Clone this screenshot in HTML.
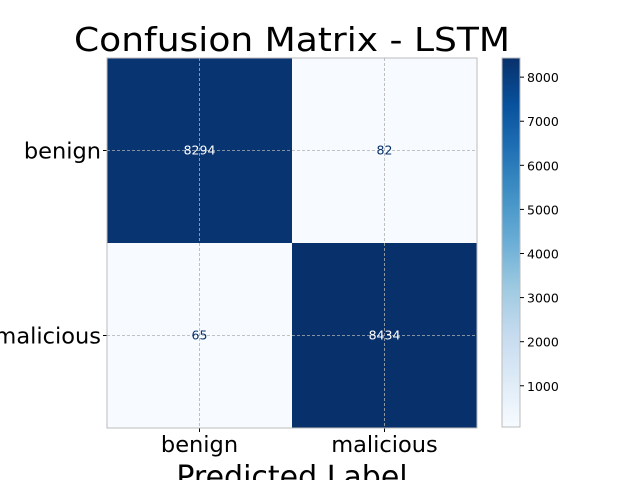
<!DOCTYPE html>
<html><head><meta charset="utf-8"><style>body{margin:0;background:#fff}svg{display:block;font-family:"DejaVu Sans","Liberation Sans",sans-serif}</style></head>
<body>
<svg id="c" width="640" height="480" xmlns="http://www.w3.org/2000/svg">
<defs><linearGradient id="blues" x1="0" y1="1" x2="0" y2="0">
<stop offset="0" stop-color="#f7fbff"/><stop offset="0.125" stop-color="#deebf7"/><stop offset="0.25" stop-color="#c6dbef"/><stop offset="0.375" stop-color="#9ecae1"/><stop offset="0.5" stop-color="#6baed6"/><stop offset="0.625" stop-color="#4292c6"/><stop offset="0.75" stop-color="#2171b5"/><stop offset="0.875" stop-color="#08519c"/><stop offset="1" stop-color="#08306b"/></linearGradient></defs>
<text x="292" y="51" font-size="33" text-anchor="middle" textLength="436" lengthAdjust="spacingAndGlyphs">Confusion Matrix - LSTM</text>
<g id="m"></g>
<text x="292" y="487" font-size="30" text-anchor="middle">Predicted Label</text>
<rect x="502" y="58" width="18" height="369" fill="url(#blues)" stroke="#bbb"/>
<g id="cb"></g>
</svg>
<script>
const labels = ["benign","malicious"];
const values = [[8294,82],[65,8434]];
const cbTicks = [1000,2000,3000,4000,5000,6000,7000,8000];
const NS="http://www.w3.org/2000/svg";
const X0=107,Y0=58,S=185,N=labels.length;
const vmin=Math.min(...values.flat()),vmax=Math.max(...values.flat());
const stops=["#f7fbff","#deebf7","#c6dbef","#9ecae1","#6baed6","#4292c6","#2171b5","#08519c","#08306b"];
function hx(c){return [1,3,5].map(i=>parseInt(c.substr(i,2),16));}
function color(v){let t=(v-vmin)/(vmax-vmin)*8;let i=Math.min(7,Math.floor(t)),f=t-i;let a=hx(stops[i]),b=hx(stops[i+1]);return "rgb("+a.map((x,k)=>Math.round(x+(b[k]-x)*f)).join(",")+")";}
function mk(tag,at,par){const e=document.createElementNS(NS,tag);for(const k in at)e.setAttribute(k,at[k]);par.appendChild(e);return e;}
const g=document.getElementById("m");
for(let r=0;r<N;r++)for(let c=0;c<N;c++){
 const v=values[r][c];
 const rc=mk("rect",{x:X0+c*S,y:Y0+r*S,width:S,height:S,fill:color(v)},g);
 
 
}
for(let i=0;i<N;i++){
 const cx=X0+S*i+S/2;
 mk("line",{x1:cx,y1:Y0,x2:cx,y2:Y0+N*S,stroke:"#b0b0b0","stroke-width":0.8,"stroke-dasharray":"3,2"},g);
 mk("line",{x1:X0,y1:cx-X0+Y0,x2:X0+N*S,y2:cx-X0+Y0,stroke:"#b0b0b0","stroke-width":0.8,"stroke-dasharray":"3,2"},g);
 mk("line",{x1:cx,y1:Y0+N*S,x2:cx,y2:Y0+N*S+4,stroke:"#000"},g);
 mk("line",{x1:X0-4,y1:Y0+S*i+S/2,x2:X0,y2:Y0+S*i+S/2,stroke:"#000"},g);
 const xl=mk("text",{x:cx,y:Y0+N*S+24,"font-size":22.5,"text-anchor":"middle"},g);xl.textContent=labels[i];
 
 
 const yl=mk("text",{x:X0-6,y:Y0+S*i+S/2+8,"font-size":22.5,"text-anchor":"end"},g);yl.textContent=labels[i];
 
 
}
for(let r=0;r<N;r++)for(let c=0;c<N;c++){
 const v=values[r][c];
 const t=mk("text",{x:X0+c*S+S/2,y:Y0+r*S+S/2+4,"font-size":12.5,"text-anchor":"middle",fill:(v-vmin)/(vmax-vmin)>0.5?"#fff":"#08306b"},g);
 t.textContent=v;
 
 
}
mk("rect",{x:X0,y:Y0,width:N*S,height:N*S,fill:"none",stroke:"#bbb"},g);
const cb=document.getElementById("cb");
for(const v of cbTicks){
 const y=427-(v-vmin)/(vmax-vmin)*369;
 mk("line",{x1:520,y1:y,x2:524,y2:y,stroke:"#000"},cb);
 const t=mk("text",{x:527,y:y+5,"font-size":12.5},cb);t.textContent=v;
 
 
}
</script>
</body></html>
